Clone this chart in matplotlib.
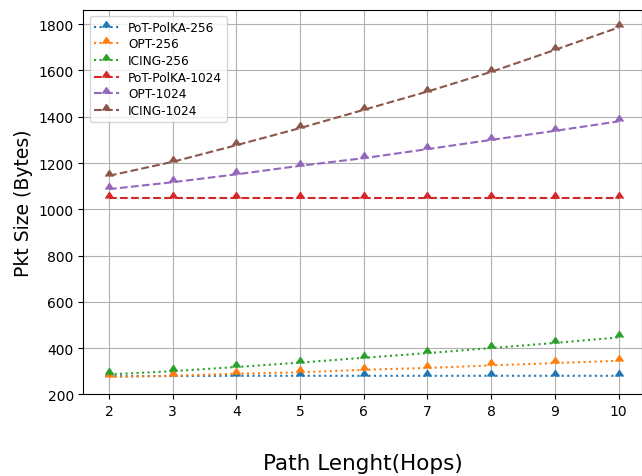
import matplotlib
matplotlib.use('Agg')
import matplotlib.pyplot as plt

# longitud del camino (saltos)
hops = [2, 3, 4, 5, 6, 7, 8, 9, 10]

# tama침o de paquete (bytes)
pot_polka_256 = [278, 279, 280, 280, 280, 280, 280, 280, 280]
opt_256 = [275, 280, 289, 295, 306, 314, 325, 335, 345]
icing_256 = [286, 300, 318, 337, 358, 378, 400, 422, 446]
pot_polka_1024 = [1047, 1047, 1047, 1047, 1047, 1047, 1047, 1047, 1047]
opt_1024 = [1087, 1117, 1151, 1188, 1221, 1260, 1300, 1339, 1380]
icing_1024 = [1145, 1205, 1277, 1351, 1430, 1509, 1594, 1689, 1786]

series = [
    ('PoT-PolKA-256', pot_polka_256, ':'),
    ('OPT-256', opt_256, ':'),
    ('ICING-256', icing_256, ':'),
    ('PoT-PolKA-1024', pot_polka_1024, '--'),
    ('OPT-1024', opt_1024, '--'),
    ('ICING-1024', icing_1024, '--'),
]

fig, ax = plt.subplots(figsize=(6.42, 4.77), dpi=100)
fig.subplots_adjust(left=83.5 / 642, right=641.5 / 642, top=1 - 11 / 477, bottom=1 - 395.3 / 477)

for label, values, ls in series:
    ax.plot(hops, values, linestyle=ls, marker=10, label=label)

ax.set_xlim(1.6, 10.36)
ax.set_ylim(bottom=200)
ax.set_xticks(hops)
ax.grid(True)
ax.set_xlabel('Path Lenght(Hops)', fontsize=15.5, labelpad=25)
ax.set_ylabel('Pkt Size (Bytes)', fontsize=13.5)
ax.legend(loc='upper left', fontsize=8.7, labelspacing=0.3)

plt.savefig('out.png', dpi=100)
plt.close()
